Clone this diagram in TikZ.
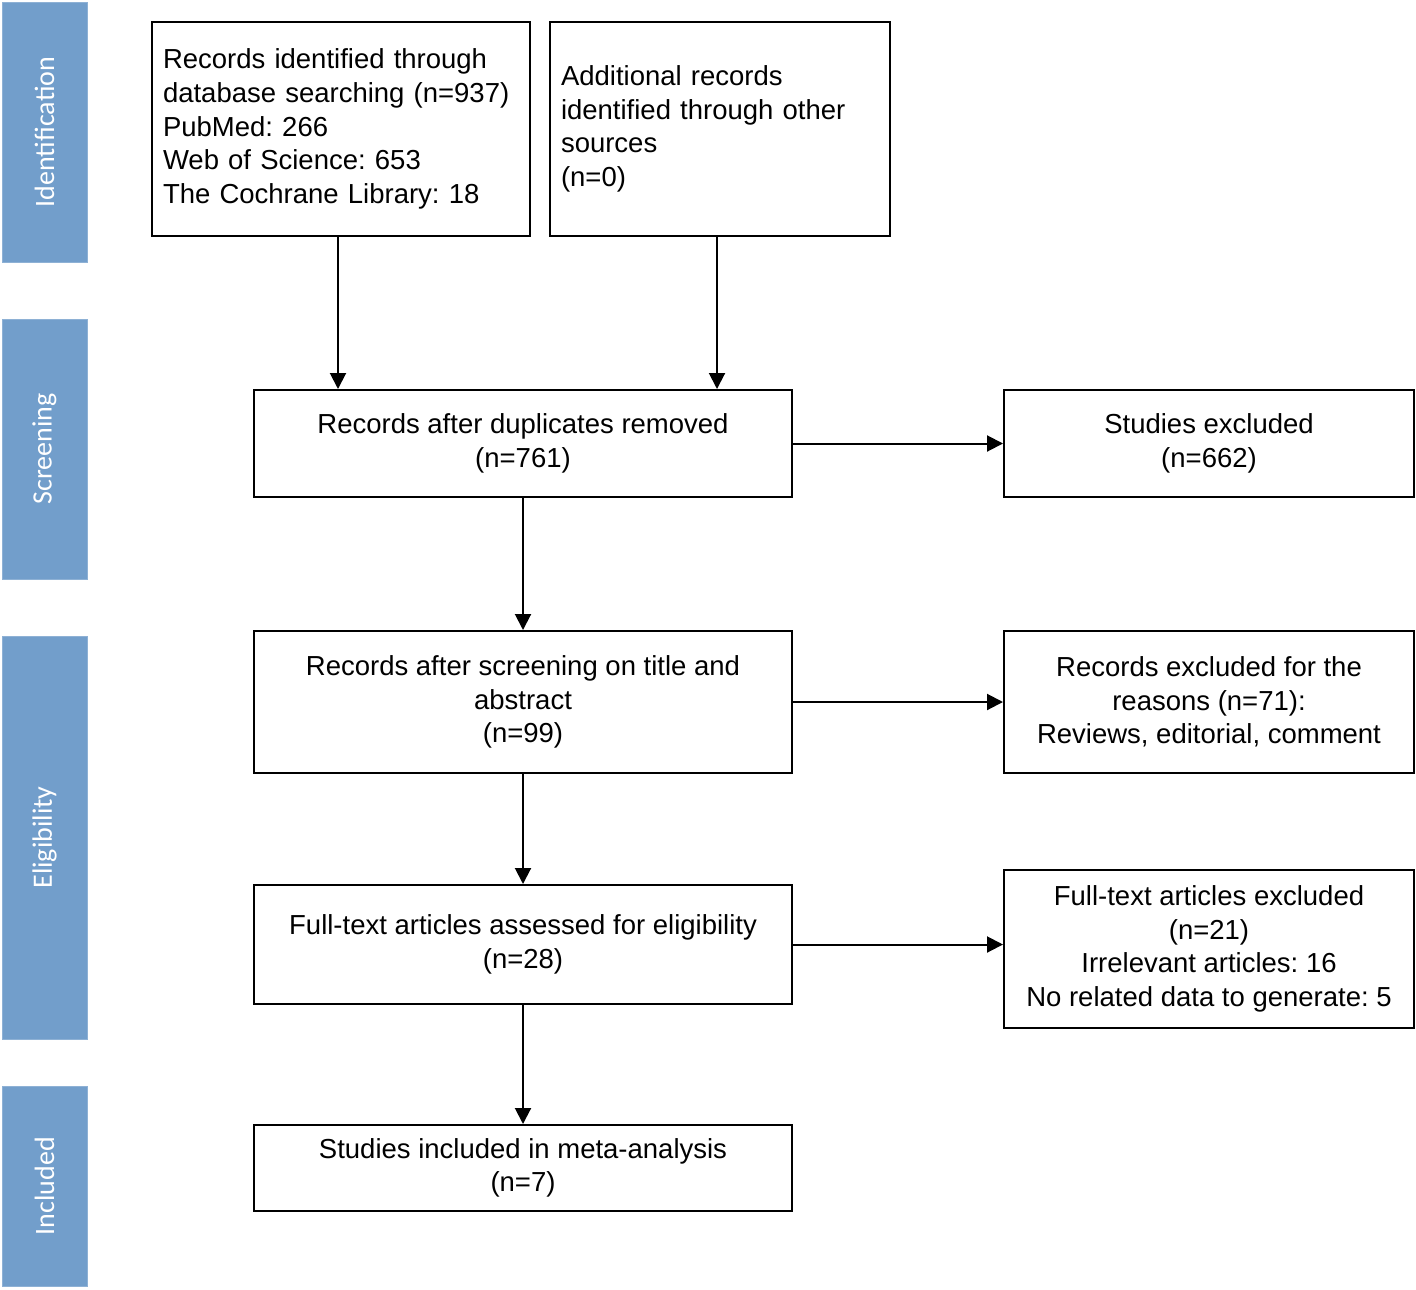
\documentclass[tikz,border=0pt]{standalone}
\usepackage{fontspec}
\setmainfont{Liberation Sans}
\newfontfamily\phasefont{Carlito}
\frenchspacing
\usetikzlibrary{arrows.meta,positioning}
\definecolor{phaseblue}{RGB}{114,158,203}
\tikzstyle{box} = [draw=black, line width=1pt, fill=white, inner sep=5.5pt, font=\fontsize{13.75}{16.8}\selectfont]
\tikzstyle{leftbox} = [box, align=left, text width=178pt]
\tikzstyle{midbox} = [box, align=center]
\tikzstyle{phase} = [draw=phaseblue!80!white, fill=phaseblue, minimum width=42.5pt, text=white, font=\phasefont\fontsize{14}{16}\selectfont, rotate=90]
\tikzstyle{tedge} = [draw, line width=1pt, >={Triangle[length=8pt,width=8pt]}, ->]

\begin{document}
\begin{tikzpicture}[x=0.5pt,y=-0.5pt]
\useasboundingbox (0,0) rectangle (1416,1289);

% phases =============================
\node[phase, minimum height=42.5pt, minimum width=130pt] (ident) at (44.5,132) {Identification};
\node[phase, minimum height=42.5pt, minimum width=130pt] (screen) at (44.5,449) {Screening};
\node[phase, minimum height=42.5pt, minimum width=201.5pt] (elig) at (44.5,837.5) {Eligibility};
\node[phase, minimum height=42.5pt, minimum width=100pt] (incl) at (44.5,1186) {Included};

% boxes =============================
\node[leftbox, minimum width=189pt, minimum height=107pt] (db) at (341,129)
  {Records identified through\\database searching (n=937)\\PubMed: 266\\Web of Science: 653\\The Cochrane Library: 18};
\node[leftbox, text width=159pt, minimum width=170pt, minimum height=107pt] (other) at (720,129)
  {Additional records\\identified through other\\sources\\(n=0)};
\node[midbox, minimum width=269pt, minimum height=53.5pt] (dup) at (523,443.5)
  {Records after duplicates removed\\(n=761)};
\node[midbox, minimum width=205pt, minimum height=53.5pt] (exc1) at (1209,443.5)
  {Studies excluded\\(n=662)};
\node[midbox, minimum width=269pt, minimum height=71pt] (title) at (523,702)
  {Records after screening on title and\\abstract\\(n=99)};
\node[midbox, minimum width=205pt, minimum height=71pt] (exc2) at (1209,702)
  {Records excluded for the\\reasons (n=71):\\Reviews, editorial, comment};
\node[midbox, minimum width=269pt, minimum height=59.5pt] (full) at (523,944.5)
  {Full-text articles assessed for eligibility\\(n=28)};
\node[midbox, minimum width=205pt, minimum height=79pt] (exc3) at (1209,949)
  {Full-text articles excluded\\(n=21)\\Irrelevant articles: 16\\No related data to generate: 5};
\node[midbox, minimum width=269pt, minimum height=43pt] (meta) at (523,1168)
  {Studies included in meta-analysis\\(n=7)};

% edges
\path[tedge] (db.south -| 338,0) -- (dup.north -| 338,0);
\path[tedge] (other.south -| 717,0) -- (dup.north -| 717,0);
\path[tedge] (dup) -- (exc1);
\path[tedge] (dup) -- (title);
\path[tedge] (title) -- (exc2);
\path[tedge] (title) -- (full);
\path[tedge] (full.east) -- (full.east -| exc3.west);
\path[tedge] (full) -- (meta);

\end{tikzpicture}
\end{document}
